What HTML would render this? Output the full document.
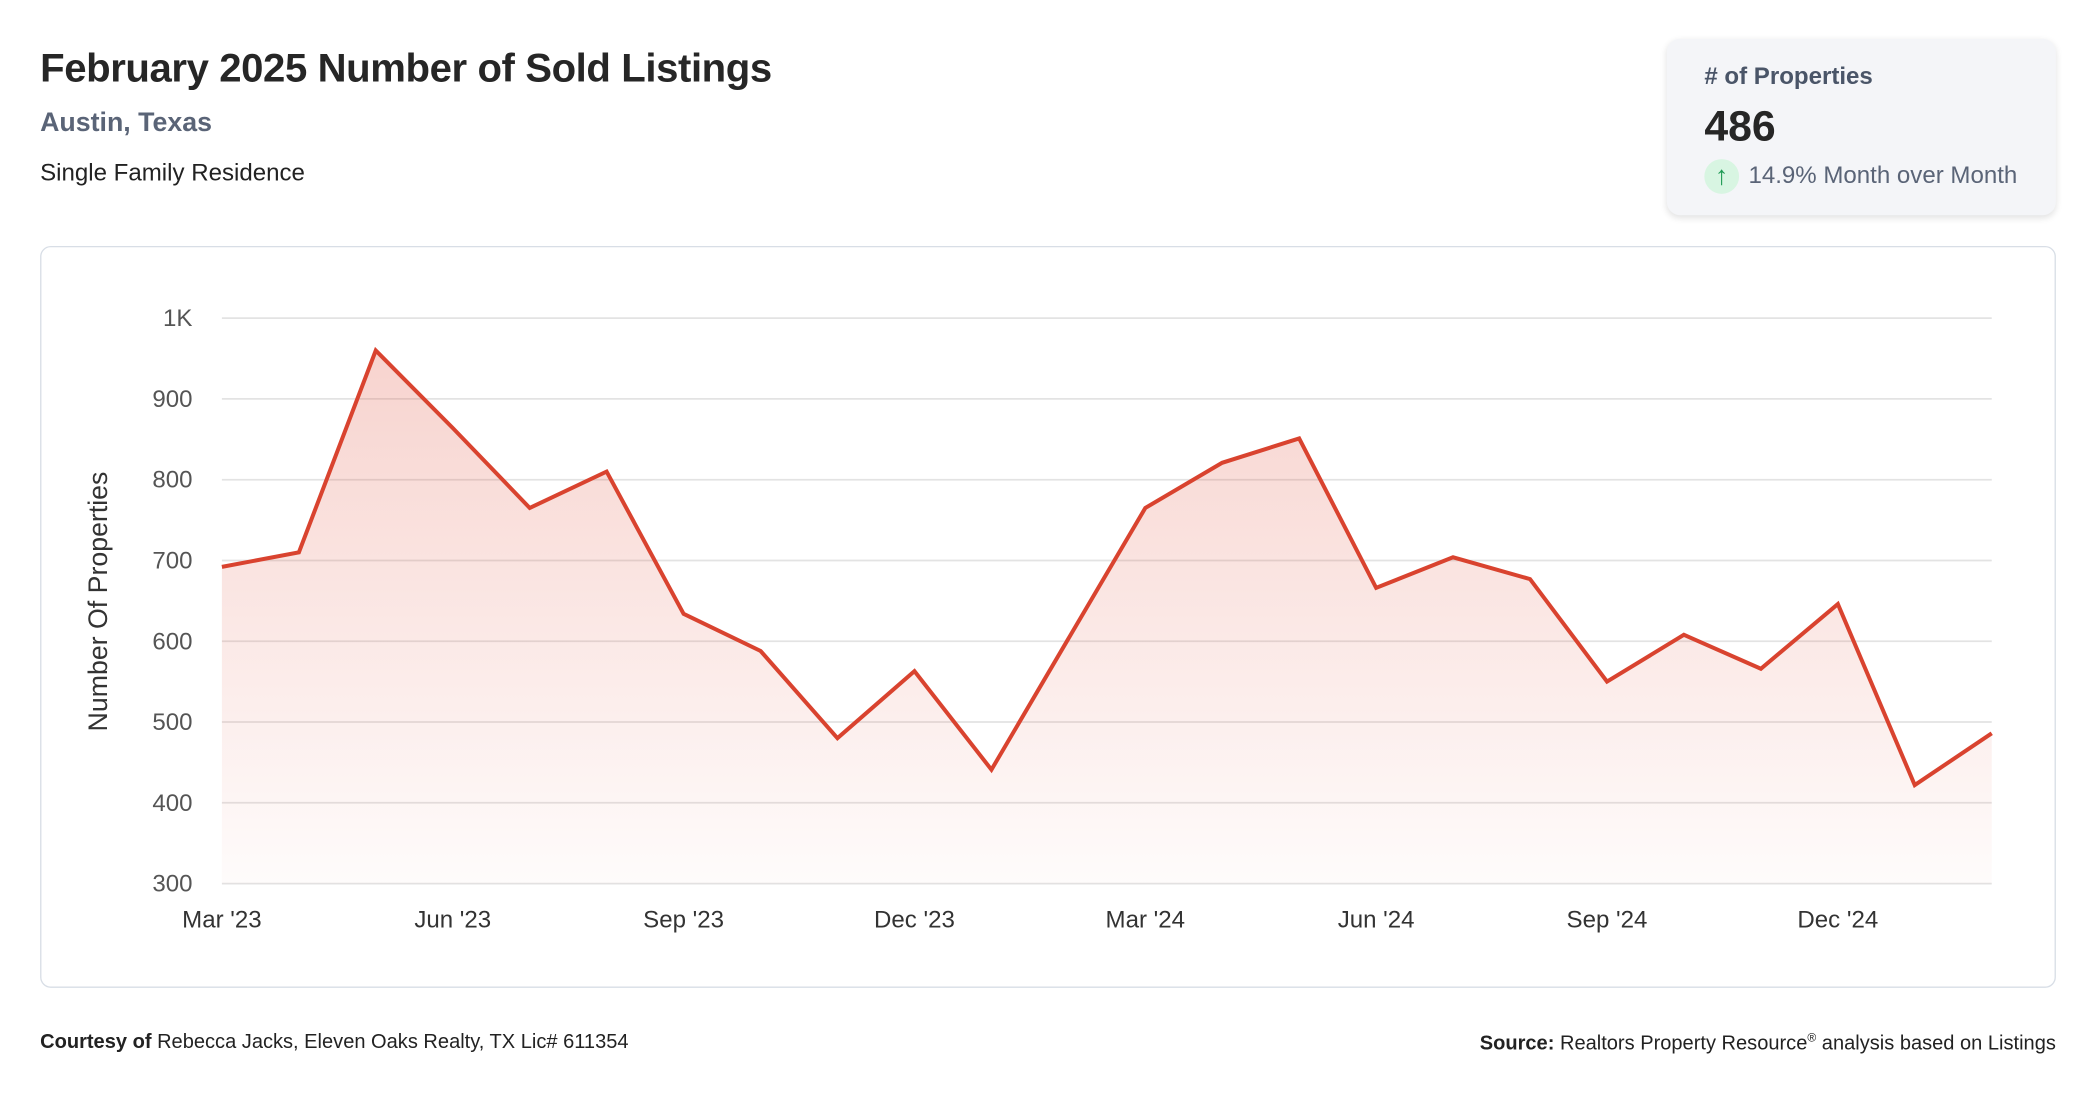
<!DOCTYPE html>
<html><head><meta charset="utf-8"><style>
html,body{margin:0;padding:0;background:#fff;width:2096px;height:1100px;overflow:hidden}
#wrap{position:absolute;left:0;top:0;width:1568px;height:823px;transform:scale(1.33673);transform-origin:0 0;font-family:"Liberation Sans",Arial,sans-serif;color:#222}
.abs{position:absolute;white-space:nowrap}
</style></head><body>
<div id="wrap">
  <div class="abs" style="left:30px;top:35px;font-size:30px;font-weight:bold;color:#262626;letter-spacing:-0.3px">February 2025 Number of Sold Listings</div>
  <div class="abs" style="left:30px;top:81px;font-size:20px;font-weight:bold;color:#5a6477">Austin, Texas</div>
  <div class="abs" style="left:30px;top:119px;font-size:18px;color:#222">Single Family Residence</div>

  <div class="abs" style="left:1247px;top:29px;width:291px;height:132px;background:#f4f5f8;border-radius:10px;box-shadow:0 2px 5px rgba(0,0,0,0.12)">
    <div class="abs" style="left:28px;top:18px;font-size:18px;font-weight:bold;color:#4a5568">#&nbsp;of Properties</div>
    <div class="abs" style="left:28px;top:47px;font-size:32px;font-weight:bold;color:#262626">486</div>
    <div class="abs" style="left:28px;top:90px;width:26px;height:26px;border-radius:50%;background:#d8f5e2;color:#1f9a55;font-size:20px;line-height:26px;text-align:center;font-weight:bold">↑</div>
    <div class="abs" style="left:61px;top:92px;font-size:18px;color:#5a6477">14.9% Month over Month</div>
  </div>

  <div class="abs" style="left:30px;top:184px;width:1506px;height:553px;border:1px solid #d8dee6;border-radius:8px;background:#fff"></div>
  <svg id="chart" class="abs" style="left:0;top:0" width="1568" height="823"></svg>

  <div class="abs" style="left:30px;top:771px;font-size:15px;color:#222"><b>Courtesy of</b> Rebecca Jacks, Eleven Oaks Realty, TX Lic# 611354</div>
  <div class="abs" style="right:30px;top:771px;font-size:15px;color:#222"><b>Source:</b> Realtors Property Resource<sup style="font-size:9px">®</sup> analysis based on Listings</div>
</div>
<script>
const months = ["Mar '23","Apr '23","May '23","Jun '23","Jul '23","Aug '23","Sep '23","Oct '23","Nov '23","Dec '23","Jan '24","Feb '24","Mar '24","Apr '24","May '24","Jun '24","Jul '24","Aug '24","Sep '24","Oct '24","Nov '24","Dec '24","Jan '25","Feb '25"];
const sold = [692,710,960,864,765,810,634,588,480,563,441,603,765,821,851,666,704,677,550,608,566,646,422,486];
const yTicks = [300,400,500,600,700,800,900,1000];
const yTickLabels = ["300","400","500","600","700","800","900","1K"];
const xTickIdx = [0,3,6,9,12,15,18,21];

const NS = "http://www.w3.org/2000/svg";
const svg = document.getElementById('chart');
const X0 = 166, X1 = 1490, YB = 661, YT = 238, VMIN = 300, VMAX = 1000;
function xs(i){ return X0 + (X1 - X0) * i / (months.length - 1); }
function ys(v){ return YB - (v - VMIN) / (VMAX - VMIN) * (YB - YT); }
function mk(tag, attrs){ const e = document.createElementNS(NS, tag); for (const k in attrs) e.setAttribute(k, attrs[k]); return e; }

const defs = mk('defs', {});
const grad = mk('linearGradient', {id:'fillGrad', x1:0, y1:0, x2:0, y2:1});
grad.appendChild(mk('stop', {offset:'0', 'stop-color':'#e0503c', 'stop-opacity':'0.25'}));
grad.appendChild(mk('stop', {offset:'1', 'stop-color':'#e0503c', 'stop-opacity':'0.02'}));
defs.appendChild(grad);
svg.appendChild(defs);

yTicks.forEach((t, i) => {
  const g = mk('line', {x1:X0, x2:X1, y1:ys(t), y2:ys(t), stroke:'#e3e3e3', 'stroke-width':1.3});
  
  
  svg.appendChild(g);
  const tx = mk('text', {x:144, y:ys(t)+6, 'text-anchor':'end', 'font-size':18, fill:'#555', 'font-family':'Liberation Sans, sans-serif'});
  tx.textContent = yTickLabels[i];
  
  
  svg.appendChild(tx);
});

xTickIdx.forEach(i => {
  const tx = mk('text', {x:xs(i), y:694, 'text-anchor':'middle', 'font-size':18, fill:'#333', 'font-family':'Liberation Sans, sans-serif'});
  tx.textContent = months[i];
  
  
  svg.appendChild(tx);
});

const yt = mk('text', {x:0, y:0, transform:'translate(80,450) rotate(-90)', 'text-anchor':'middle', 'font-size':20, fill:'#333', 'font-family':'Liberation Sans, sans-serif'});
yt.textContent = 'Number Of Properties';


svg.appendChild(yt);

let d = '';
sold.forEach((v, i) => { d += (i ? 'L' : 'M') + xs(i).toFixed(1) + ',' + ys(v).toFixed(1); });
const area = mk('path', {d: d + 'L' + xs(sold.length-1) + ',' + YB + 'L' + xs(0) + ',' + YB + 'Z', fill:'url(#fillGrad)'});


svg.appendChild(area);
const line = mk('path', {d: d, fill:'none', stroke:'#d9432f', 'stroke-width':3, 'stroke-linejoin':'miter'});


svg.appendChild(line);
</script>
</body></html>
